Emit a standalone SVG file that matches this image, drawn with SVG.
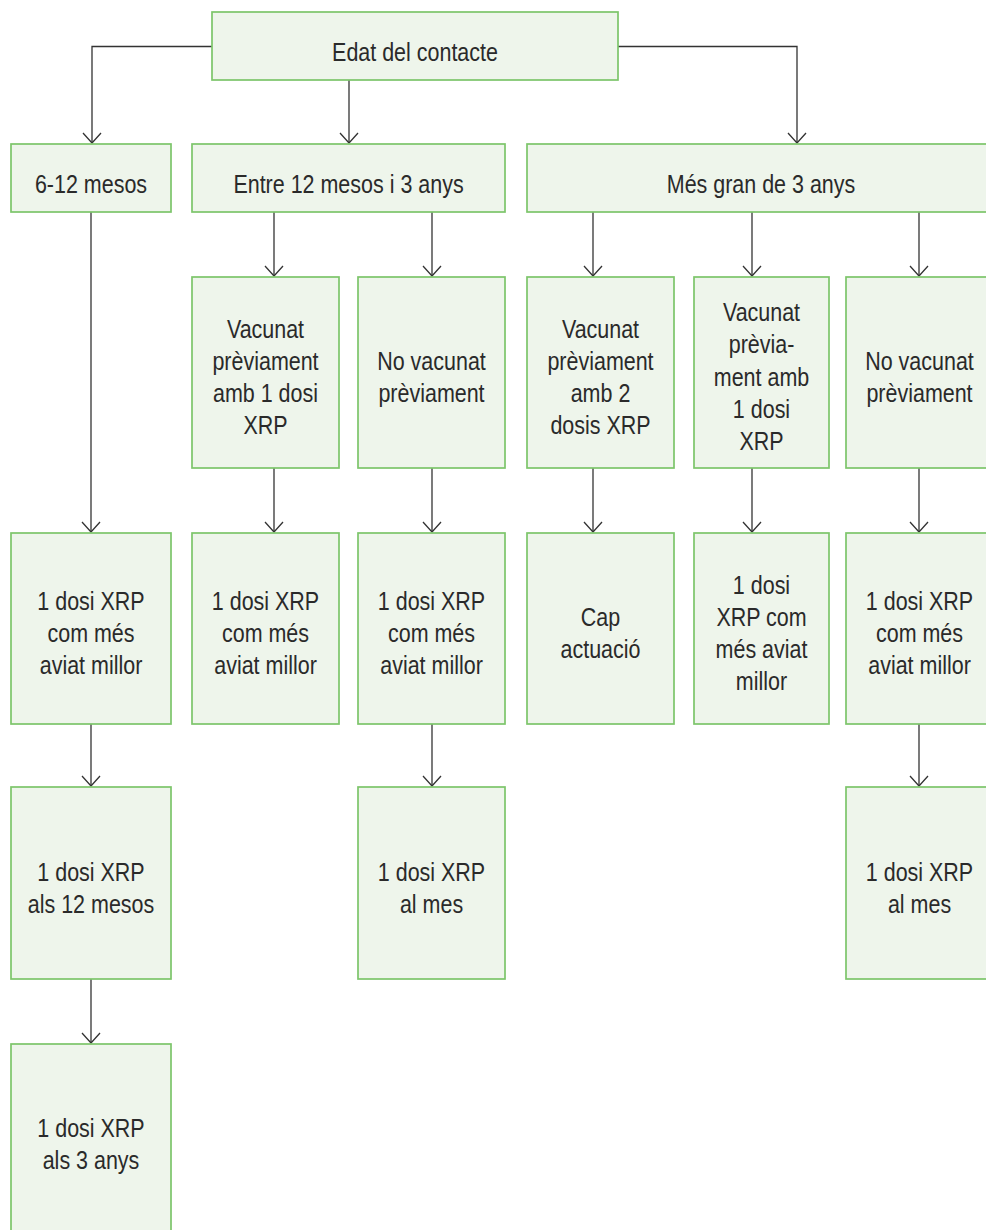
<svg xmlns="http://www.w3.org/2000/svg" width="986" height="1230" viewBox="0 0 986 1230">
  <style>
    .box { fill: #eef5eb; stroke: #7cc56a; stroke-width: 1.7; }
    .lbl { font-family: "Liberation Sans", Arial, sans-serif; font-size: 26.5px; fill: #2a2a2a; text-anchor: middle; }
    .edge { fill: none; stroke: #333333; stroke-width: 1.3; marker-end: url(#arrow); }
  </style>
  <defs>
    <!-- open V arrowhead -->
    <marker id="arrow" markerUnits="userSpaceOnUse" markerWidth="24" markerHeight="24" viewBox="-12 -12 24 24" refX="0" refY="0" orient="auto" overflow="visible">
      <path d="M-10,-9 L0,0 L-10,9" fill="none" stroke="#333333" stroke-width="1.3"/>
    </marker>
  </defs>

  <rect width="986" height="1230" fill="#ffffff"/>

  <!-- connectors -->
  <g id="connectors">
    <path class="edge" d="M212,46.5 H92 V143"/>
    <path class="edge" d="M349,80 V143"/>
    <path class="edge" d="M618,46.5 H797 V143"/>
    <path class="edge" d="M274,212 V276"/>
    <path class="edge" d="M432,212 V276"/>
    <path class="edge" d="M593,212 V276"/>
    <path class="edge" d="M752,212 V276"/>
    <path class="edge" d="M919,212 V276"/>
    <path class="edge" d="M91,212 V532"/>
    <path class="edge" d="M274,468 V532"/>
    <path class="edge" d="M432,468 V532"/>
    <path class="edge" d="M593,468 V532"/>
    <path class="edge" d="M752,468 V532"/>
    <path class="edge" d="M919,468 V532"/>
    <path class="edge" d="M91,724 V786"/>
    <path class="edge" d="M432,724 V786"/>
    <path class="edge" d="M919,724 V786"/>
    <path class="edge" d="M91,979 V1043"/>
  </g>

  <!-- level 0 -->
  <g id="n0">
    <rect class="box" x="212" y="12" width="406" height="68"/>
    <text class="lbl" transform="matrix(0.81 0 0 1 415 0)" x="0" y="61">Edat del contacte</text>
  </g>

  <!-- level 1 -->
  <g id="n1">
    <rect class="box" x="11" y="144" width="160" height="68"/>
    <text class="lbl" transform="matrix(0.81 0 0 1 91 0)" x="0" y="193">6-12 mesos</text>
  </g>
  <g id="n2">
    <rect class="box" x="192" y="144" width="313" height="68"/>
    <text class="lbl" transform="matrix(0.81 0 0 1 348.5 0)" x="0" y="193">Entre 12 mesos i 3 anys</text>
  </g>
  <g id="n3">
    <rect class="box" x="527" y="144" width="468" height="68"/>
    <text class="lbl" transform="matrix(0.81 0 0 1 761 0)" x="0" y="193">Més gran de 3 anys</text>
  </g>

  <!-- level 2 -->
  <g id="n4">
    <rect class="box" x="192" y="277" width="147" height="191"/>
    <text class="lbl" transform="matrix(0.81 0 0 1 265.5 0)" x="0" y="338">Vacunat<tspan x="0" y="370">prèviament</tspan><tspan x="0" y="402">amb 1 dosi</tspan><tspan x="0" y="434">XRP</tspan></text>
  </g>
  <g id="n5">
    <rect class="box" x="358" y="277" width="147" height="191"/>
    <text class="lbl" transform="matrix(0.81 0 0 1 431.5 0)" x="0" y="370">No vacunat<tspan x="0" y="402">prèviament</tspan></text>
  </g>
  <g id="n6">
    <rect class="box" x="527" y="277" width="147" height="191"/>
    <text class="lbl" transform="matrix(0.81 0 0 1 600.5 0)" x="0" y="338">Vacunat<tspan x="0" y="370">prèviament</tspan><tspan x="0" y="402">amb 2</tspan><tspan x="0" y="434">dosis XRP</tspan></text>
  </g>
  <g id="n7">
    <rect class="box" x="694" y="277" width="135" height="191"/>
    <text class="lbl" transform="matrix(0.81 0 0 1 761.5 0)" x="0" y="321">Vacunat<tspan x="0" y="353">prèvia-</tspan><tspan x="0" y="386">ment amb</tspan><tspan x="0" y="418">1 dosi</tspan><tspan x="0" y="450">XRP</tspan></text>
  </g>
  <g id="n8">
    <rect class="box" x="846" y="277" width="147" height="191"/>
    <text class="lbl" transform="matrix(0.81 0 0 1 919.5 0)" x="0" y="370">No vacunat<tspan x="0" y="402">prèviament</tspan></text>
  </g>

  <!-- level 3 -->
  <g id="n9">
    <rect class="box" x="11" y="533" width="160" height="191"/>
    <text class="lbl" transform="matrix(0.81 0 0 1 91 0)" x="0" y="610">1 dosi XRP<tspan x="0" y="642">com més</tspan><tspan x="0" y="674">aviat millor</tspan></text>
  </g>
  <g id="n10">
    <rect class="box" x="192" y="533" width="147" height="191"/>
    <text class="lbl" transform="matrix(0.81 0 0 1 265.5 0)" x="0" y="610">1 dosi XRP<tspan x="0" y="642">com més</tspan><tspan x="0" y="674">aviat millor</tspan></text>
  </g>
  <g id="n11">
    <rect class="box" x="358" y="533" width="147" height="191"/>
    <text class="lbl" transform="matrix(0.81 0 0 1 431.5 0)" x="0" y="610">1 dosi XRP<tspan x="0" y="642">com més</tspan><tspan x="0" y="674">aviat millor</tspan></text>
  </g>
  <g id="n12">
    <rect class="box" x="527" y="533" width="147" height="191"/>
    <text class="lbl" transform="matrix(0.81 0 0 1 600.5 0)" x="0" y="626">Cap<tspan x="0" y="658">actuació</tspan></text>
  </g>
  <g id="n13">
    <rect class="box" x="694" y="533" width="135" height="191"/>
    <text class="lbl" transform="matrix(0.81 0 0 1 761.5 0)" x="0" y="594">1 dosi<tspan x="0" y="626">XRP com</tspan><tspan x="0" y="658">més aviat</tspan><tspan x="0" y="690">millor</tspan></text>
  </g>
  <g id="n14">
    <rect class="box" x="846" y="533" width="147" height="191"/>
    <text class="lbl" transform="matrix(0.81 0 0 1 919.5 0)" x="0" y="610">1 dosi XRP<tspan x="0" y="642">com més</tspan><tspan x="0" y="674">aviat millor</tspan></text>
  </g>

  <!-- level 4 -->
  <g id="n15">
    <rect class="box" x="11" y="787" width="160" height="192"/>
    <text class="lbl" transform="matrix(0.81 0 0 1 91 0)" x="0" y="881">1 dosi XRP<tspan x="0" y="913">als 12 mesos</tspan></text>
  </g>
  <g id="n16">
    <rect class="box" x="358" y="787" width="147" height="192"/>
    <text class="lbl" transform="matrix(0.81 0 0 1 431.5 0)" x="0" y="881">1 dosi XRP<tspan x="0" y="913">al mes</tspan></text>
  </g>
  <g id="n17">
    <rect class="box" x="846" y="787" width="147" height="192"/>
    <text class="lbl" transform="matrix(0.81 0 0 1 919.5 0)" x="0" y="881">1 dosi XRP<tspan x="0" y="913">al mes</tspan></text>
  </g>

  <!-- level 5 -->
  <g id="n18">
    <rect class="box" x="11" y="1044" width="160" height="192"/>
    <text class="lbl" transform="matrix(0.81 0 0 1 91 0)" x="0" y="1137">1 dosi XRP<tspan x="0" y="1169">als 3 anys</tspan></text>
  </g>
</svg>
